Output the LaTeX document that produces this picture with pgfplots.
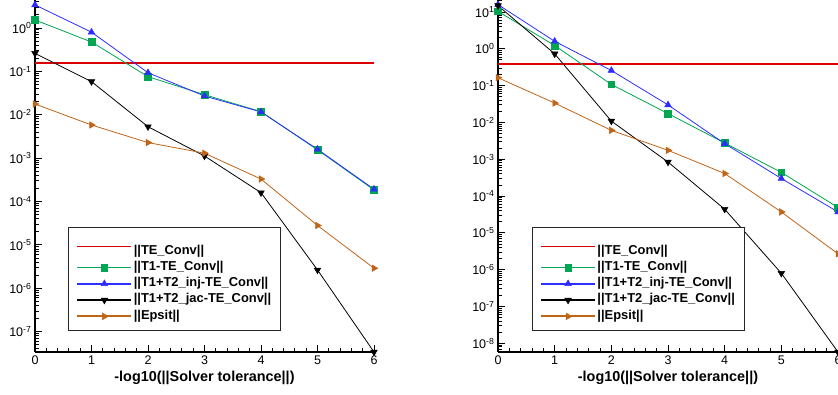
\documentclass[border=0pt]{standalone}
\usepackage{fontspec}
\setmainfont{Liberation Sans}
\usepackage{pgfplots}
\pgfplotsset{compat=1.18}
\definecolor{cred}{RGB}{220,0,0}
\definecolor{cgreen}{RGB}{0,166,81}
\definecolor{cblue}{RGB}{45,45,255}
\definecolor{corange}{RGB}{192,100,24}
\pgfplotsset{
  log number format basis/.code 2 args={10\textsuperscript{\pgfmathprintnumber{#2}}},
  legend image code/.code={\draw[mark repeat=2,mark phase=2,#1,line width=1.8pt] plot coordinates {(0pt,0pt)(27pt,0pt)(54pt,0pt)};},
}
\tikzset{
  sg/.style={cgreen, line width=0.8pt, mark=square*, mark size=3.3pt, mark options={line width=0.5pt}},
  sb/.style={cblue, line width=0.8pt, mark=triangle*, mark size=3.8pt, mark options={line width=0.5pt}},
  sk/.style={black, line width=0.8pt, mark=triangle*, mark size=3.8pt, mark options={rotate=180, line width=0.5pt}},
  so/.style={corange, line width=0.8pt, mark=triangle*, mark size=3.8pt, mark options={rotate=-90, line width=0.5pt}},
  ytk/.style={draw=black, line width=0.9pt},
}
\pgfplotsset{every axis/.append style={
    scale only axis, height=352pt,
    xmin=0, xmax=6, xtick={0,...,6}, minor x tick num=4,
    axis x line*=bottom, axis y line*=left,
    axis line style={line width=1.6pt},
    xtick align=inside, ytick align=inside,
    major tick length=7pt, minor tick length=4pt,
    every tick/.style={draw=black, line width=0.9pt},
    tick label style={font=\fontsize{12.5}{14}\selectfont},
    /pgf/number format/assume math mode=true,
    xlabel={-log10(||Solver tolerance||)},
    xlabel style={font=\bfseries\fontsize{14.4}{16}\selectfont},
    clip=false,
    legend cell align=left,
    legend style={anchor=north west, draw=black!85, line width=1pt,
      font=\bfseries\fontsize{12.9}{14}\selectfont,
      inner xsep=8pt, inner ysep=6pt, row sep=0pt,
      nodes={inner sep=1.5pt, text height=9.5pt, text depth=3.8pt}},
}}
\begin{document}
\begin{tikzpicture}
\useasboundingbox (0,0) rectangle (838pt,394pt);
\begin{axis}[ymode=log, at={(35pt,42pt)}, anchor=south west, width=339pt,
  ymin=3.4e-8, ymax=4.41, ytickten={-7,...,0},
  legend style={at={(0.0973,0.355)}}]
\pgfplotsinvokeforeach{1e-7,1e-6,1e-5,1e-4,1e-3,1e-2,1e-1,1}{\draw[ytk] (axis cs:0,#1) -- ++(7pt,0pt);}
\pgfplotsinvokeforeach{4e-8,5e-8,6e-8,7e-8,8e-8,9e-8,
    2e-7,3e-7,4e-7,5e-7,6e-7,7e-7,8e-7,9e-7,
    2e-6,3e-6,4e-6,5e-6,6e-6,7e-6,8e-6,9e-6,
    2e-5,3e-5,4e-5,5e-5,6e-5,7e-5,8e-5,9e-5,
    2e-4,3e-4,4e-4,5e-4,6e-4,7e-4,8e-4,9e-4,
    2e-3,3e-3,4e-3,5e-3,6e-3,7e-3,8e-3,9e-3,
    2e-2,3e-2,4e-2,5e-2,6e-2,7e-2,8e-2,9e-2,
    2e-1,3e-1,4e-1,5e-1,6e-1,7e-1,8e-1,9e-1,
    2,3,4}{\draw[ytk] (axis cs:0,#1) -- ++(4pt,0pt);}
\addplot[cred, line width=2pt] coordinates {(0,0.159)(6,0.159)};
\addlegendentry[text height=19pt]{||TE\_Conv||}
\addplot[sg] coordinates {(0,1.53)(1,0.475)(2,0.0755)(3,0.029)(4,0.0118)(5,0.00155)(6,1.85e-4)};
\addlegendentry{||T1-TE\_Conv||}
\addplot[sb] coordinates {(0,3.4)(1,0.80)(2,0.093)(3,0.027)(4,0.0116)(5,0.0016)(6,1.92e-4)};
\addlegendentry{||T1+T2\_inj-TE\_Conv||}
\addplot[sk] coordinates {(0,0.26)(1,0.058)(2,0.0053)(3,0.00112)(4,1.6e-4)(5,2.65e-6)(6,3.4e-8)};
\addlegendentry{||T1+T2\_jac-TE\_Conv||}
\addplot[so] coordinates {(0,0.0177)(1,0.0058)(2,0.00228)(3,0.0013)(4,3.3e-4)(5,2.8e-5)(6,2.9e-6)};
\addlegendentry{||Epsit||}
\end{axis}
\begin{axis}[ymode=log, at={(498pt,42pt)}, anchor=south west, width=340pt,
  ymin=5.8e-9, ymax=21.2, ytickten={-8,...,1},
  legend style={at={(0.099,0.355)}}]
\pgfplotsinvokeforeach{1e-8,1e-7,1e-6,1e-5,1e-4,1e-3,1e-2,1e-1,1,10}{\draw[ytk] (axis cs:0,#1) -- ++(7pt,0pt);}
\pgfplotsinvokeforeach{6e-9,7e-9,8e-9,9e-9,
    2e-8,3e-8,4e-8,5e-8,6e-8,7e-8,8e-8,9e-8,
    2e-7,3e-7,4e-7,5e-7,6e-7,7e-7,8e-7,9e-7,
    2e-6,3e-6,4e-6,5e-6,6e-6,7e-6,8e-6,9e-6,
    2e-5,3e-5,4e-5,5e-5,6e-5,7e-5,8e-5,9e-5,
    2e-4,3e-4,4e-4,5e-4,6e-4,7e-4,8e-4,9e-4,
    2e-3,3e-3,4e-3,5e-3,6e-3,7e-3,8e-3,9e-3,
    2e-2,3e-2,4e-2,5e-2,6e-2,7e-2,8e-2,9e-2,
    2e-1,3e-1,4e-1,5e-1,6e-1,7e-1,8e-1,9e-1,
    2,3,4,5,6,7,8,9,20}{\draw[ytk] (axis cs:0,#1) -- ++(4pt,0pt);}
\addplot[cred, line width=2pt] coordinates {(0,0.39)(6,0.39)};
\addlegendentry[text height=19pt]{||TE\_Conv||}
\addplot[sg] coordinates {(0,10.4)(1,1.23)(2,0.108)(3,0.0174)(4,0.00277)(5,4.4e-4)(6,4.9e-5)};
\addlegendentry{||T1-TE\_Conv||}
\addplot[sb] coordinates {(0,15.9)(1,1.6)(2,0.258)(3,0.030)(4,0.00266)(5,3.0e-4)(6,3.7e-5)};
\addlegendentry{||T1+T2\_inj-TE\_Conv||}
\addplot[sk] coordinates {(0,14.9)(1,0.73)(2,0.0109)(3,8.4e-4)(4,4.4e-5)(5,8.0e-7)(6,5.8e-9)};
\addlegendentry{||T1+T2\_jac-TE\_Conv||}
\addplot[so] coordinates {(0,0.164)(1,0.0336)(2,0.0061)(3,0.00175)(4,4.1e-4)(5,3.7e-5)(6,2.7e-6)};
\addlegendentry{||Epsit||}
\end{axis}
\end{tikzpicture}
\end{document}
